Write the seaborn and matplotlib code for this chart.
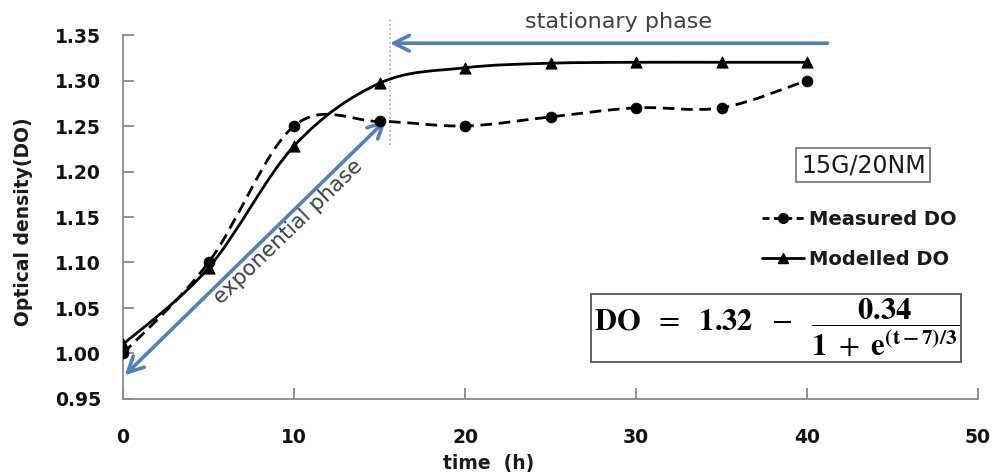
import numpy as np
import pandas as pd
import matplotlib
matplotlib.use("Agg")
import matplotlib.pyplot as plt
from matplotlib.path import Path
from matplotlib.patches import PathPatch
from matplotlib.lines import Line2D
import seaborn as sns

# ---- data ----
time_h = [0, 5, 10, 15, 20, 25, 30, 35, 40]
measured_do = [1.00, 1.10, 1.25, 1.255, 1.25, 1.26, 1.27, 1.27, 1.30]
modelled_do = [1.01, 1.094, 1.228, 1.297, 1.314, 1.319, 1.32, 1.32, 1.32]
x_ticks = [0, 10, 20, 30, 40, 50]
y_ticks = [0.95, 1.00, 1.05, 1.10, 1.15, 1.20, 1.25, 1.30, 1.35]
series_labels = ["Measured DO", "Modelled DO"]

sns.set_theme(style="white")
plt.rcParams["font.family"] = ["DejaVu Sans"]
plt.rcParams["mathtext.fontset"] = "stix"

W, H = 996, 474
fig = plt.figure(figsize=(W / 100, H / 100), dpi=100)
L, R, T, B = 123, 978, 35, 399
ax = fig.add_axes([L / W, 1 - B / H, (R - L) / W, (B - T) / H])

df = pd.DataFrame({"time": time_h, "measured": measured_do, "modelled": modelled_do})


def smooth_path(xs, ys):
    """Excel-like smoothed line: cubic Bezier segments through the points."""
    pts = np.column_stack([xs, ys]).astype(float)
    n = len(pts)
    verts = [pts[0]]
    codes = [Path.MOVETO]
    for i in range(n - 1):
        p0 = pts[i - 1] if i > 0 else pts[i]
        p1 = pts[i]
        p2 = pts[i + 1]
        p3 = pts[i + 2] if i + 2 < n else pts[i + 1]
        c1 = p1 + (p2 - p0) / 6.0
        c2 = p2 - (p3 - p1) / 6.0
        verts += [c1, c2, p2]
        codes += [Path.CURVE4] * 3
    return Path(verts, codes)


ax.add_patch(PathPatch(smooth_path(df["time"], df["measured"]), fill=False,
                       edgecolor="black", lw=2.0, linestyle=(0, (4.2, 2.4)), zorder=3))
ax.add_patch(PathPatch(smooth_path(df["time"], df["modelled"]), fill=False,
                       edgecolor="black", lw=2.0, zorder=3))

sns.scatterplot(data=df, x="time", y="measured", marker="o", s=60, color="black",
                edgecolor="black", ax=ax, zorder=4, legend=False)
sns.scatterplot(data=df, x="time", y="modelled", marker="^", s=65, color="black",
                edgecolor="black", ax=ax, zorder=4, legend=False)

ax.set_xlim(0, 50)
ax.set_ylim(0.95, 1.35)
ax.set_xticks(x_ticks)
ax.set_yticks(y_ticks)
ax.set_xticklabels([str(v) for v in x_ticks])
ax.set_yticklabels([f"{v:.2f}" for v in y_ticks])

for s in ["top", "right"]:
    ax.spines[s].set_visible(False)
for s in ["left", "bottom"]:
    ax.spines[s].set_color("#8a8a8a")
    ax.spines[s].set_linewidth(1.3)

ax.tick_params(axis="both", which="major", bottom=True, left=True, direction="in",
               length=8, width=1.3, color="#8a8a8a", labelcolor="#111111")
ax.tick_params(axis="x", pad=21)
ax.tick_params(axis="y", pad=16)
for lab in ax.get_xticklabels() + ax.get_yticklabels():
    lab.set_fontweight("bold")
    lab.set_fontsize(13.5)

ax.set_xlabel("time  (h)", fontsize=13.5, fontweight="bold", color="#1a1a1a")
ax.set_ylabel("Optical density(DO)", fontsize=13.5, fontweight="bold", color="#1a1a1a")
ax.xaxis.set_label_coords((489 - L) / (R - L), (B - 463) / (B - T))
ax.yaxis.set_label_coords((24 - L) / (R - L), (B - 222) / (B - T))
ax.xaxis.label.set_va("center")
ax.yaxis.label.set_rotation_mode("default")
ax.yaxis.label.set_va("center")
ax.yaxis.label.set_ha("center")

blue = "#4F81BD"
# dotted separator line
ax.plot([15.6, 15.6], [1.229, 1.369], linestyle=":", color="#8DB4E2", lw=1.2,
        clip_on=False, zorder=2)
# stationary phase arrow
ax.annotate("", xy=(15.6, 1.341), xytext=(41.2, 1.341),
            arrowprops=dict(arrowstyle="->", lw=2.6, color=blue, mutation_scale=28,
                            shrinkA=0, shrinkB=0),
            annotation_clip=False)
ax.text(29.0, 1.3643, "stationary phase", fontsize=16, color="#404040",
        ha="center", va="center")
# exponential phase double arrow
ax.annotate("", xy=(0.1, 0.976), xytext=(15.4, 1.257),
            arrowprops=dict(arrowstyle="<->", lw=2.6, color=blue, mutation_scale=28,
                            shrinkA=0, shrinkB=0),
            annotation_clip=False)
ax.text(9.65, 1.1335, "exponential phase", fontsize=15.5, color="#404040",
        ha="center", va="center", rotation=44, rotation_mode="anchor")

# label box
ax.text(43.3, 1.2071, "15G/20NM", fontsize=17, color="#1a1a1a",
        ha="center", va="center",
        bbox=dict(boxstyle="square,pad=0.2", facecolor="white", edgecolor="#7f7f7f", lw=1.3))

# legend
handles = [
    Line2D([], [], color="black", lw=2.0, linestyle=(0, (2.5, 1.6)), marker="o", markersize=7),
    Line2D([], [], color="black", lw=2.0, marker="^", markersize=7),
]
leg = ax.legend(handles, series_labels, loc="upper left",
                bbox_to_anchor=(748 / W, 1 - 196 / H), bbox_transform=fig.transFigure,
                frameon=False, handlelength=2.2, handletextpad=0.25, labelspacing=1.1,
                borderpad=0.2, prop=dict(size=14, weight="bold"))
for t in leg.get_texts():
    t.set_color("#1a1a1a")

# formula box
ax.text(38.2, 1.028,
        r"$\mathbf{DO}\ \ =\ \ \mathbf{1.32}\ \ -\ \ \dfrac{\mathbf{0.34}}{\mathbf{1}\ +\ \mathbf{e}^{\mathbf{(t-7)/3}}}$",
        fontsize=22, color="black", ha="center", va="center",
        bbox=dict(boxstyle="square,pad=0.08", facecolor="white", edgecolor="#555555", lw=1.3))

fig.savefig("out.png", dpi=100, facecolor="white")
